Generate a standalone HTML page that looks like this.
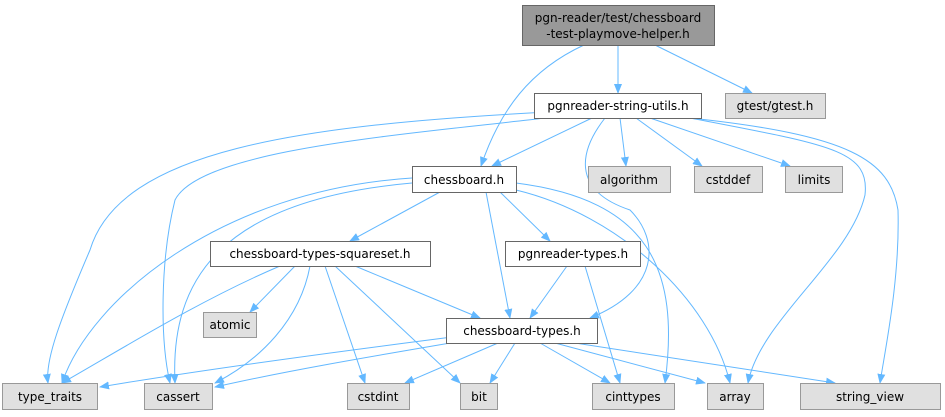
<!DOCTYPE html>
<html><head><style>body{margin:0;background:#fff}svg{display:block}text{font-family:"DejaVu Sans","Liberation Sans",sans-serif;font-size:12px;fill:#000}</style></head><body>
<svg width="945" height="417" viewBox="0 0 945 417" xmlns="http://www.w3.org/2000/svg">
<defs><marker id="a" markerWidth="10" markerHeight="8" refX="9" refY="4" orient="auto" markerUnits="userSpaceOnUse"><path d="M0,0 L10,4 L0,8 z" fill="#63b8ff"/></marker></defs>
<g fill="none" stroke="#63b8ff" stroke-width="1" marker-end="url(#a)">
<path d="M584,45 C530,70 500,110 481,166"/>
<path d="M618,45 L618,93"/>
<path d="M655,45 L752,93"/>
<path d="M592,118 L492,166"/>
<path d="M620,118 L626,166"/>
<path d="M636,118 L702,166"/>
<path d="M650,118 L790,166"/>
<path d="M548,112 C300,125 120,150 90,250 C60,320 45,360 48,383"/>
<path d="M545,118 C400,135 200,150 175,200 C160,260 160,340 170,383"/>
<path d="M605,118 C580,150 570,190 630,210 C660,240 660,290 590,318"/>
<path d="M690,118 C830,145 870,150 865,195 C850,260 760,320 748,383"/>
<path d="M690,118 C850,135 890,160 898,210 C900,280 885,350 880,383"/>
<path d="M412,178 C220,190 90,300 62,383"/>
<path d="M412,183 C220,200 170,280 175,383"/>
<path d="M440,192 L350,241"/>
<path d="M486,192 L510,318"/>
<path d="M500,192 L550,241"/>
<path d="M516,183 C650,200 680,270 665,383"/>
<path d="M516,190 C620,215 710,300 730,383"/>
<path d="M295,266 L250,312"/>
<path d="M280,266 C200,300 120,350 62,383"/>
<path d="M310,266 C300,320 260,360 215,383"/>
<path d="M325,266 L365,383"/>
<path d="M335,266 L460,383"/>
<path d="M355,266 L480,318"/>
<path d="M567,266 L530,318"/>
<path d="M585,266 L620,383"/>
<path d="M460,336 C350,350 200,370 100,387"/>
<path d="M468,340 C380,355 290,370 215,387"/>
<path d="M498,343 L405,383"/>
<path d="M515,343 L490,383"/>
<path d="M540,343 L610,383"/>
<path d="M555,343 L705,383"/>
<path d="M575,343 L835,383"/>
</g>
<g stroke-width="1">
<rect x="522.5" y="5.5" width="192" height="40" fill="#999" stroke="#666"/>
<rect x="534.5" y="93.5" width="167" height="25" fill="#fff" stroke="#666"/>
<rect x="725.5" y="93.5" width="100" height="25" fill="#e0e0e0" stroke="#999"/>
<rect x="412.5" y="166.5" width="104" height="26" fill="#fff" stroke="#666"/>
<rect x="588.5" y="166.5" width="82" height="26" fill="#e0e0e0" stroke="#999"/>
<rect x="694.5" y="166.5" width="68" height="26" fill="#e0e0e0" stroke="#999"/>
<rect x="785.5" y="166.5" width="57" height="26" fill="#e0e0e0" stroke="#999"/>
<rect x="210.5" y="241.5" width="220" height="25" fill="#fff" stroke="#666"/>
<rect x="505.5" y="241.5" width="135" height="25" fill="#fff" stroke="#666"/>
<rect x="203.5" y="312.5" width="53" height="25" fill="#e0e0e0" stroke="#999"/>
<rect x="446.5" y="318.5" width="151" height="25" fill="#fff" stroke="#666"/>
<rect x="2.5" y="383.5" width="95" height="26" fill="#e0e0e0" stroke="#999"/>
<rect x="144.5" y="383.5" width="68" height="26" fill="#e0e0e0" stroke="#999"/>
<rect x="347.5" y="383.5" width="62" height="26" fill="#e0e0e0" stroke="#999"/>
<rect x="460.5" y="383.5" width="37" height="26" fill="#e0e0e0" stroke="#999"/>
<rect x="592.5" y="383.5" width="82" height="26" fill="#e0e0e0" stroke="#999"/>
<rect x="707.5" y="383.5" width="56" height="26" fill="#e0e0e0" stroke="#999"/>
<rect x="800.5" y="383.5" width="140" height="26" fill="#e0e0e0" stroke="#999"/>
</g>
<g text-anchor="middle">
<text x="618" y="22">pgn-reader/test/chessboard</text>
<text x="618" y="38">-test-playmove-helper.h</text>
<text x="618" y="110">pgnreader-string-utils.h</text>
<text x="775" y="110">gtest/gtest.h</text>
<text x="464" y="184">chessboard.h</text>
<text x="629" y="184">algorithm</text>
<text x="728" y="184">cstddef</text>
<text x="814" y="184">limits</text>
<text x="320" y="258">chessboard-types-squareset.h</text>
<text x="573" y="258">pgnreader-types.h</text>
<text x="230" y="329">atomic</text>
<text x="522" y="335">chessboard-types.h</text>
<text x="50" y="401">type_traits</text>
<text x="178" y="401">cassert</text>
<text x="378" y="401">cstdint</text>
<text x="479" y="401">bit</text>
<text x="633" y="401">cinttypes</text>
<text x="735" y="401">array</text>
<text x="870" y="401">string_view</text>
</g>
</svg>
</body></html>
